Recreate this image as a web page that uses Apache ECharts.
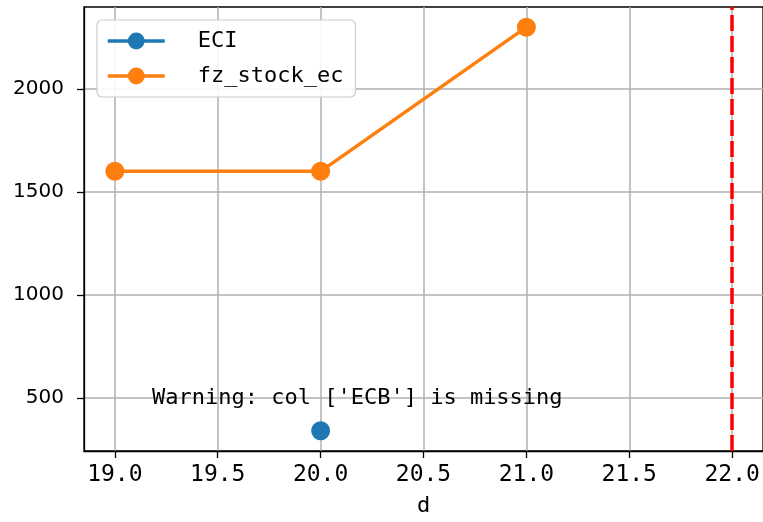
<!DOCTYPE html>
<html>
<head>
<meta charset="utf-8">
<script src="https://cdn.jsdelivr.net/npm/echarts@6/dist/echarts.min.js"></script>
<style>
html,body{margin:0;padding:0;background:#fff;}
#main{width:763px;height:522px;}
</style>
</head>
<body>
<div id="main"></div>
<script>
// data
var xTicks = [19.0, 19.5, 20.0, 20.5, 21.0, 21.5, 22.0];
var yTicks = [500, 1000, 1500, 2000];
var eciD = [20.0];
var eciVal = [340];
var fzD = [19.0, 20.0, 21.0];
var fzVal = [1600, 1600, 2300];
var cutLine = 22.0;
var warnText = "Warning: col ['ECB'] is missing";

var mono = 'DejaVu Sans Mono';
var myChart = echarts.init(document.getElementById('main'));

function pairs(xs, ys) {
    var out = [];
    for (var i = 0; i < xs.length; i++) out.push([xs[i], ys[i]]);
    return out;
}

var option = {
    animation: false,
    grid: {
        left: 84, right: -1, top: 7, bottom: 70,
        show: true, borderColor: '#000', borderWidth: 1.3
    },
    legend: {
        orient: 'vertical',
        left: 97, top: 20,
        padding: [10, 12, 10, 9],
        itemWidth: 57, itemHeight: 21, itemGap: 13,
        backgroundColor: 'rgba(255,255,255,0.9)',
        borderColor: '#cccccc', borderWidth: 1.2, borderRadius: 5,
        lineStyle: { width: 3.5 },
        textStyle: { fontFamily: mono, fontSize: 22, color: '#000', padding: [0, 0, 0, 28] },
        data: ['ECI', 'fz_stock_ec']
    },
    xAxis: {
        type: 'value',
        min: 18.85, max: 22.15,
        name: 'd', nameLocation: 'middle', nameGap: 44,
        nameTextStyle: { fontFamily: mono, fontSize: 22, color: '#000' },
        axisLine: { show: true, lineStyle: { color: '#000', width: 1.3 } },
        axisTick: { show: true, length: 7, customValues: xTicks, lineStyle: { color: '#000', width: 1.3 } },
        axisLabel: {
            customValues: xTicks, margin: 13,
            fontFamily: mono, fontSize: 23, color: '#000',
            formatter: function (v) { return v.toFixed(1); }
        },
        splitLine: { show: true, lineStyle: { color: '#b0b0b0', width: 1.5 } }
    },
    yAxis: {
        type: 'value',
        min: 242, max: 2398,
        axisLine: { show: true, lineStyle: { color: '#000', width: 1.3 } },
        axisTick: { show: true, length: 7, customValues: yTicks, lineStyle: { color: '#000', width: 1.3 } },
        axisLabel: {
            customValues: yTicks, margin: 20,
            fontFamily: 'DejaVu Sans', fontSize: 20, color: '#000',
            formatter: function (v) { return String(v); }
        },
        splitLine: { show: true, lineStyle: { color: '#b0b0b0', width: 1.5 } }
    },
    graphic: [{
        type: 'text', left: 152, top: 387, z: 50,
        style: { text: warnText, fontFamily: mono, fontSize: 22, fill: '#000' }
    }],
    series: [
        {
            name: 'ECI', type: 'line',
            data: pairs(eciD, eciVal),
            symbol: 'circle', symbolSize: 19, showAllSymbol: true,
            itemStyle: { color: '#1f77b4' },
            lineStyle: { color: '#1f77b4', width: 3.5 }
        },
        {
            name: 'fz_stock_ec', type: 'line',
            data: pairs(fzD, fzVal),
            symbol: 'circle', symbolSize: 19,
            itemStyle: { color: '#ff7f0e' },
            lineStyle: { color: '#ff7f0e', width: 3.5 },
            markLine: {
                silent: true, symbol: 'none',
                label: { show: false },
                lineStyle: { color: '#ff0000', width: 3.5, type: [16, 5] },
                data: [{ xAxis: cutLine }]
            }
        }
    ]
};
myChart.setOption(option);
</script>
</body>
</html>
